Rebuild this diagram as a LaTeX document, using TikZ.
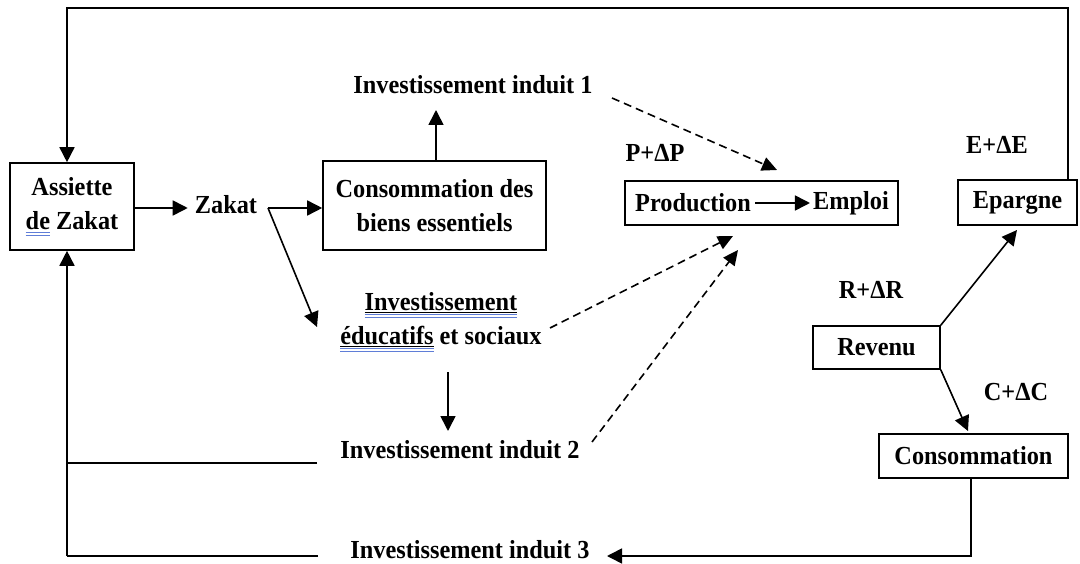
\documentclass[tikz,border=0pt]{standalone}
\usepackage{fontspec}
\setmainfont{Liberation Serif}[FakeStretch=0.935]
\usetikzlibrary{arrows.meta}
\definecolor{spell}{RGB}{95,125,215}
\newcommand\dblue[1]{\setbox0\hbox{#1}\vtop{\offinterlineskip\copy0\kern2.5pt\hbox{\color{spell}\rule{\wd0}{0.9pt}}\kern1.8pt\hbox{\color{spell}\rule{\wd0}{0.9pt}}}}
\newcommand\bul[1]{\setbox0\hbox{#1}\vtop{\offinterlineskip\copy0\kern1pt\hrule height 1.3pt\kern1.2pt\hbox{\color{spell}\rule{\wd0}{0.9pt}}\kern1.8pt\hbox{\color{spell}\rule{\wd0}{0.9pt}}}}
\begin{document}
\begin{tikzpicture}[x=1pt,y=-1pt,
  every node/.style={font=\bfseries\fontsize{26}{34}\selectfont},
  box/.style={draw, line width=1.6pt, inner sep=0pt, align=center},
  lbl/.style={inner sep=0pt, align=center},
  link/.style={line width=1.6pt},
  arr/.style={link, -{Triangle[length=15pt,width=15pt]}},
  darr/.style={link, dash pattern=on 8pt off 5pt, -{Triangle[length=15pt,width=14pt]}}]
\useasboundingbox (0,0) rectangle (1080,564);
\fill[white] (0,0) rectangle (1080,564);

% nodes
\node[box, minimum width=124pt, minimum height=87pt] (as) at (72,206.5) {Assiette\\\dblue{de} Zakat};
\node[lbl] (zk) at (226,205) {Zakat};
\node[box, minimum width=223pt, minimum height=89pt] (cb) at (434.5,205.5) {Consommation des\\biens essentiels};
\node[lbl] (i1) at (473,85) {Investissement induit 1};
\node[lbl] (edu) at (441,322) {\bul{Investissement}\\\bul{éducatifs} et sociaux};
\node[lbl] (i2) at (460,450) {Investissement induit 2};
\node[lbl] (i3) at (470,550) {Investissement induit 3};
\node[box, minimum width=273pt, minimum height=44pt] (pr) at (761.5,203) {};
\node[lbl] (prt) at (693,203) {Production};
\node[lbl] (emt) at (851,203) {Emploi};
\node[box, minimum width=119pt, minimum height=45pt] (ep) at (1017.5,202.5) {Epargne};
\node[box, minimum width=127pt, minimum height=43pt] (rv) at (876.5,347.5) {Revenu};
\node[box, minimum width=189pt, minimum height=44pt] (cs) at (973.5,456) {Consommation};
\node[lbl] (dp) at (655,153) {P+ΔP};
\node[lbl] (de) at (997,145) {E+ΔE};
\node[lbl] (dr) at (871,290) {R+ΔR};
\node[lbl] (dc) at (1016,392) {C+ΔC};

% coordinates
\coordinate (tr) at (1068,8);
\coordinate (tl) at (67,8);
\coordinate (bl) at (67,556);
\coordinate (e2) at (317,463);
\coordinate (e3) at (318,556);
\coordinate (zs) at (268,208);
\coordinate (zt) at (317,327);
\coordinate (cbt) at (436,110);
\coordinate (d1s) at (612,98);
\coordinate (d1t) at (777,170);
\coordinate (d2s) at (550,328);
\coordinate (d2t) at (733,236);
\coordinate (d3s) at (592,442);
\coordinate (d3t) at (738,250);
\coordinate (ea) at (448,372);
\coordinate (eb) at (448,431);
\coordinate (ept) at (1017,230);
\coordinate (cst) at (968,431);
\coordinate (csb) at (971,556);
\coordinate (i3t) at (607,556);

% connectors
\draw[arr] (tr |- ep.north) -- (tr) -- (tl) -- (tl |- as.north);
\draw[arr] (bl) -- (bl |- as.south);
\draw[link] (e2) -- (e2 -| bl);
\draw[link] (e3) -- (bl);
\draw[arr] (as.east |- zs) -- ([xshift=-7pt]zk.west |- zs);
\draw[arr] (zs) -- (zs -| cb.west);
\draw[arr] (zs) -- (zt);
\draw[arr] (cb.north -| cbt) -- (cbt);
\draw[darr] (d1s) -- (d1t);
\draw[darr] (d2s) -- (d2t);
\draw[darr] (d3s) -- (d3t);
\draw[arr] (ea) -- (eb);
\draw[arr] ([xshift=4pt]prt.east) -- ([xshift=-3pt]emt.west);
\draw[arr] (rv.north east) -- (ept);
\draw[arr] (rv.south east) -- (cst);
\draw[arr] (cs.south -| csb) -- (csb) -- (i3t);
\end{tikzpicture}
\end{document}
